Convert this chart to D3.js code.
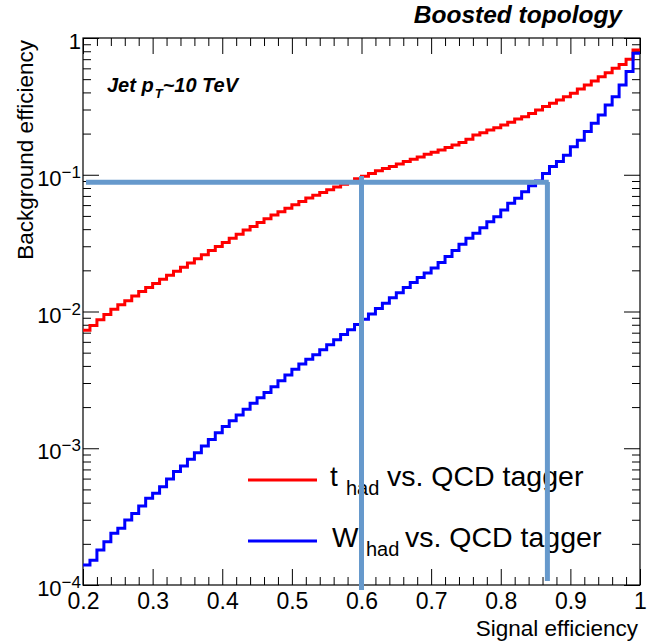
<!DOCTYPE html>
<html>
<head>
<meta charset="utf-8">
<script src="https://cdn.jsdelivr.net/npm/d3@7"></script>
<style>
body { margin: 0; background: #fff; }
text { font-family: "Liberation Sans", Arial, Helvetica, sans-serif; fill: #000; }
</style>
</head>
<body>
<svg id="chart" width="653" height="644"></svg>
<script>
// ROC curves, 80 bins of width 0.01 in signal efficiency (0.2 -> 1)
var binLow = 0.2, binHigh = 1.0, binWidth = 0.01;

// background efficiency per bin, t_had vs QCD tagger (red)
var topTagger = [
  0.0073, 0.0079, 0.0087, 0.0095, 0.0104, 0.0112, 0.0120, 0.0130, 0.0140, 0.0150,
  0.0160, 0.0172, 0.0184, 0.0197, 0.0211, 0.0226, 0.0243, 0.0260, 0.0279, 0.0299,
  0.0320, 0.0343, 0.0367, 0.0394, 0.0419, 0.0447, 0.0476, 0.0507, 0.0537, 0.0569,
  0.0603, 0.0638, 0.0676, 0.0708, 0.0741, 0.0776, 0.0813, 0.0851, 0.0891, 0.0933,
  0.0977, 0.102, 0.107, 0.111, 0.115, 0.120, 0.125, 0.130, 0.135, 0.141,
  0.146, 0.152, 0.158, 0.165, 0.172, 0.182, 0.195, 0.203, 0.212, 0.221,
  0.231, 0.242, 0.256, 0.266, 0.281, 0.297, 0.315, 0.333, 0.352, 0.372,
  0.394, 0.424, 0.453, 0.485, 0.521, 0.558, 0.600, 0.641, 0.698, 0.817
];

// background efficiency per bin, W_had vs QCD tagger (blue)
var wTagger = [
  1.40e-4, 1.52e-4, 1.80e-4, 2.07e-4, 2.39e-4, 2.60e-4, 2.99e-4, 3.34e-4, 3.78e-4, 4.31e-4,
  4.69e-4, 5.24e-4, 5.96e-4, 6.75e-4, 7.41e-4, 8.30e-4, 9.27e-4, 1.04e-3, 1.16e-3, 1.30e-3,
  1.44e-3, 1.59e-3, 1.75e-3, 1.93e-3, 2.13e-3, 2.34e-3, 2.56e-3, 2.82e-3, 3.12e-3, 3.44e-3,
  3.78e-3, 4.13e-3, 4.47e-3, 4.83e-3, 5.26e-3, 5.71e-3, 6.22e-3, 6.78e-3, 7.36e-3, 8.05e-3,
  8.77e-3, 9.59e-3, 0.0105, 0.0115, 0.0126, 0.0137, 0.0150, 0.0163, 0.0177, 0.0191,
  0.0208, 0.0228, 0.0252, 0.0279, 0.0310, 0.0343, 0.0373, 0.0410, 0.0454, 0.0493,
  0.0552, 0.0618, 0.0673, 0.0752, 0.0832, 0.0899, 0.102, 0.115, 0.125, 0.139,
  0.160, 0.179, 0.207, 0.238, 0.274, 0.324, 0.372, 0.453, 0.568, 0.773
];

var xMajor = [0.2, 0.3, 0.4, 0.5, 0.6, 0.7, 0.8, 0.9, 1.0];
var yMajor = [1e-4, 1e-3, 1e-2, 1e-1, 1];
var yExponents = ["\u22124", "\u22123", "\u22122", "\u22121", ""];

// working point guides (blue annotation lines)
var guideLevel = 0.088;
var guideCuts = [0.6, 0.867];
var guideTops = [0.098, 0.0885];
var guideBottoms = [9.2e-5, 1.07e-4];
var guideStart = 0.2043, guideEnd = 0.869;

var legendNames = ["t", "W"];
var legendColors = ["#ff0000", "#0000ff"];

// frame of the pad (window.top is reserved, so prefixed names)
var padLeft = 83, padRight = 640, padTop = 38, padBottom = 585;

var svg = d3.select("#chart");

var xScale = d3.scaleLinear().domain([binLow, binHigh]).range([padLeft, padRight]);
var yScale = d3.scaleLog().domain([1e-4, 1]).range([padBottom, padTop]);

var xMinor = d3.range(binLow, binHigh + 1e-9, 0.02).filter(function(v) {
  return Math.abs(v * 10 - Math.round(v * 10)) > 1e-6;
});
var yMinor = yScale.ticks().filter(function(v) {
  return Math.abs(Math.log10(v) - Math.round(Math.log10(v))) > 1e-6;
});

svg.append("defs").append("clipPath").attr("id", "plotclip")
  .append("rect").attr("x", padLeft).attr("y", padTop)
  .attr("width", padRight - padLeft).attr("height", padBottom - padTop);

// axes, ROOT style: ticks inside the frame on all four sides
function styleAxis(g) {
  g.select(".domain").remove();
  g.selectAll(".tick line").attr("stroke", "#000").attr("stroke-width", 1);
}

svg.append("g").attr("transform", "translate(0," + padBottom + ")")
  .call(d3.axisBottom(xScale).tickValues(xMajor).tickSize(-16).tickPadding(8)
    .tickFormat(function(d) { return d === 1 ? "1" : d.toFixed(1); }))
  .call(styleAxis)
  .selectAll("text").attr("font-size", 23).attr("font-family", null);

svg.append("g").attr("transform", "translate(0," + padBottom + ")")
  .call(d3.axisBottom(xScale).tickValues(xMinor).tickSize(-8).tickFormat(""))
  .call(styleAxis);

svg.append("g").attr("transform", "translate(0," + padTop + ")")
  .call(d3.axisTop(xScale).tickValues(xMajor).tickSize(-16).tickFormat(""))
  .call(styleAxis);

svg.append("g").attr("transform", "translate(0," + padTop + ")")
  .call(d3.axisTop(xScale).tickValues(xMinor).tickSize(-8).tickFormat(""))
  .call(styleAxis);

svg.append("g").attr("transform", "translate(" + padLeft + ",0)")
  .call(d3.axisLeft(yScale).tickValues(yMajor).tickSize(-16).tickFormat(""))
  .call(styleAxis);
svg.append("g").attr("transform", "translate(" + padLeft + ",0)")
  .call(d3.axisLeft(yScale).tickValues(yMinor).tickSize(-8).tickFormat(""))
  .call(styleAxis);
svg.append("g").attr("transform", "translate(" + padRight + ",0)")
  .call(d3.axisRight(yScale).tickValues(yMajor).tickSize(-16).tickFormat(""))
  .call(styleAxis);
svg.append("g").attr("transform", "translate(" + padRight + ",0)")
  .call(d3.axisRight(yScale).tickValues(yMinor).tickSize(-8).tickFormat(""))
  .call(styleAxis);

// y labels 10^n
var ylab = svg.append("g").selectAll("text").data(yMajor).enter().append("text")
  .attr("x", padLeft - 2)
  .attr("y", function(d) { return yScale(d) + 11; })
  .attr("text-anchor", "end")
  .attr("font-size", 22);
ylab.append("tspan").text(function(d, i) { return yExponents[i] ? "10" : "1"; });
ylab.append("tspan").attr("dy", -8).attr("font-size", 17)
  .text(function(d, i) { return yExponents[i]; });

// frame
svg.append("rect").attr("x", padLeft).attr("y", padTop)
  .attr("width", padRight - padLeft).attr("height", padBottom - padTop)
  .attr("fill", "none").attr("stroke", "#000").attr("stroke-width", 1.2);

// step histograms
var edges = d3.range(topTagger.length).map(function(i) { return binLow + i * binWidth; });
function histPoints(vals) {
  var pts = vals.map(function(v, i) { return [edges[i], v]; });
  pts.push([binHigh, vals[vals.length - 1]]);
  return pts;
}
var step = d3.line()
  .x(function(d) { return xScale(d[0]); })
  .y(function(d) { return yScale(d[1]); })
  .curve(d3.curveStepAfter);

svg.append("g").attr("clip-path", "url(#plotclip)")
  .selectAll("path").data([topTagger, wTagger]).enter().append("path")
  .attr("d", function(d) { return step(histPoints(d)); })
  .attr("fill", "none")
  .attr("stroke", function(d, i) { return legendColors[i]; })
  .attr("stroke-width", 3);

// legend
var legendY = [480, 541];
var legend = svg.append("g");
legend.selectAll("line").data(legendNames).enter().append("line")
  .attr("x1", 248).attr("x2", 317)
  .attr("y1", function(d, i) { return legendY[i]; })
  .attr("y2", function(d, i) { return legendY[i]; })
  .attr("stroke", function(d, i) { return legendColors[i]; })
  .attr("stroke-width", 3);
var subX = [346, 366], restX = [387, 405], nameX = [330, 332];
legendNames.forEach(function(name, i) {
  var base = legendY[i] + 6;
  legend.append("text").attr("x", nameX[i]).attr("y", base).attr("font-size", 28).text(name);
  legend.append("text").attr("x", subX[i]).attr("y", base + 9).attr("font-size", 20).text("had");
  legend.append("text").attr("x", restX[i]).attr("y", base).attr("font-size", 28.5).text("vs. QCD tagger");
});

// working point guide lines
var guides = svg.append("g").attr("stroke", "#6699cc").attr("stroke-width", 5);
guides.append("line")
  .attr("x1", xScale(guideStart)).attr("x2", xScale(guideEnd))
  .attr("y1", yScale(guideLevel)).attr("y2", yScale(guideLevel));
guides.selectAll("line.cut").data(guideCuts).enter().append("line").attr("class", "cut")
  .attr("x1", function(d) { return xScale(d); })
  .attr("x2", function(d) { return xScale(d); })
  .attr("y1", function(d, i) { return yScale(guideTops[i]); })
  .attr("y2", function(d, i) { return yScale(guideBottoms[i]); });

// titles
svg.append("text").attr("x", 622).attr("y", 23).attr("text-anchor", "end")
  .attr("font-size", 24.5).attr("font-weight", "bold").attr("font-style", "italic")
  .text("Boosted topology");

var jet = svg.append("text").attr("x", 107).attr("y", 92)
  .attr("font-size", 20).attr("font-weight", "bold").attr("font-style", "italic");
jet.append("tspan").text("Jet p");
jet.append("tspan").attr("font-size", 13).attr("dy", 6).attr("dx", 1).text("T");
jet.append("tspan").attr("dy", -6).text("~10 TeV");

svg.append("text").attr("x", 638).attr("y", 636).attr("text-anchor", "end")
  .attr("font-size", 22.5).text("Signal efficiency");

svg.append("text").attr("transform", "translate(33,40) rotate(-90)")
  .attr("text-anchor", "end").attr("font-size", 22.5).text("Background efficiency");
</script>
</body>
</html>
